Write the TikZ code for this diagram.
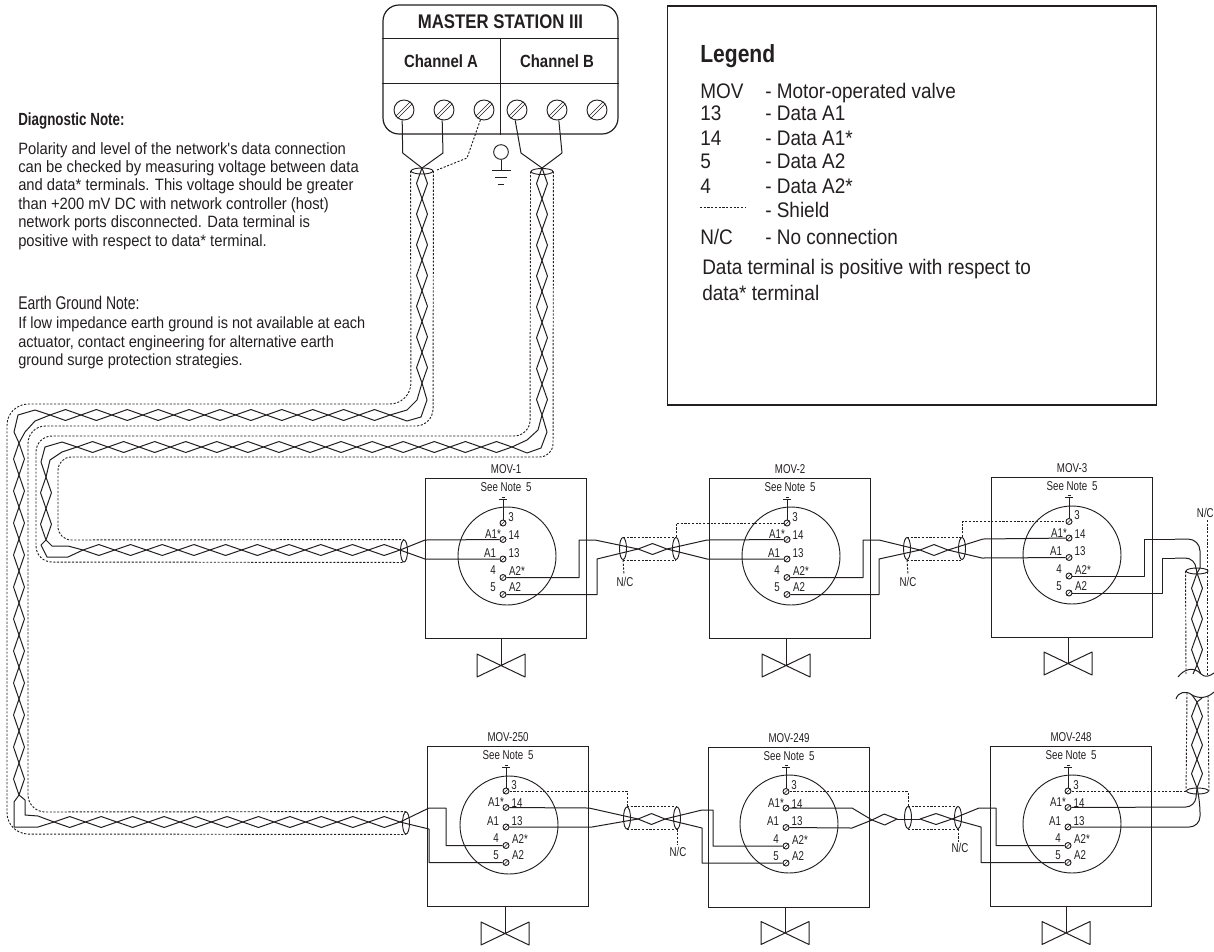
\documentclass[tikz,border=0pt]{standalone}
\usepackage{fontspec}
\setmainfont[FakeStretch=0.85]{Liberation Sans}
\newfontfamily\notefont[FakeStretch=0.9]{Liberation Sans}
\newfontfamily\termfont[FakeStretch=0.76]{Liberation Sans}
\usetikzlibrary{shapes.geometric, positioning, calc}
\definecolor{inkblack}{HTML}{231F20}
\tikzset{
  wire/.style={
    color = inkblack,
    line width = 0.75pt,
    line join = round
  },
  shield/.style={
    color = inkblack,
    line width = 0.7pt,
    dash pattern = on 1.6pt off 1.2pt
  },
  movbox/.style={
    draw = inkblack,
    rectangle,
    line width = 0.9pt,
    minimum width = 120.75pt,
    minimum height = 120pt,
    inner sep = 0,
    anchor = north west
  },
  termcircle/.style={
    draw = inkblack,
    circle,
    line width = 0.7pt,
    minimum size = 73.5pt,
    inner sep = 0
  },
  smallscrew/.style={
    draw = inkblack,
    circle,
    line width = 0.7pt,
    minimum size = 4.5pt,
    inner sep = 0
  },
  bigscrew/.style={
    draw = inkblack,
    circle,
    line width = 0.7pt,
    minimum size = 15pt,
    inner sep = 0
  },
  endring/.style={
    draw = inkblack,
    ellipse,
    line width = 0.7pt,
    minimum width = 5.25pt,
    minimum height = 16.5pt,
    inner sep = 0
  },
  flatring/.style={
    draw = inkblack,
    ellipse,
    line width = 0.7pt,
    minimum width = 16.5pt,
    minimum height = 4.5pt,
    inner sep = 0
  },
  smalltext/.style={
    text = inkblack,
    inner sep = 0,
    font = \termfont\fontsize{9.6}{11}\selectfont
  },
  boxtitle/.style={
    text = inkblack,
    inner sep = 0,
    font = \fontsize{13.2}{16}\selectfont\bfseries
  },
  legendtext/.style={
    text = inkblack,
    inner sep = 0,
    anchor = base west,
    font = \notefont\fontsize{15.8}{19}\selectfont
  },
  notetext/.style={
    text = inkblack,
    inner sep = 0,
    anchor = north west,
    align = left,
    font = \notefont\fontsize{12.3}{13.8}\selectfont
  }
}
\newcommand{\twistpair}[3]{%
  \foreach \i in {1,...,#3} {
    \coordinate (twistmid) at ($(#1)!{(\i-0.5)/#3}!(#2)$);
    \draw[wire] ($(#1)!{(\i-1)/#3}!(#2)$) -- ($(twistmid)!4.1pt!90:(#2)$)
      -- ($(#1)!{\i/#3}!(#2)$) -- ($(twistmid)!4.1pt!-90:(#2)$) -- cycle;
  }
}
\begin{document}
\begin{tikzpicture}[x=0.75pt, y=-0.75pt]
    \useasboundingbox (0,0) rectangle (1214,951);

    % master station
    \node[draw = inkblack, rectangle, rounded corners = 12pt, line width = 0.9pt,
      minimum width = 176.25pt, minimum height = 96.75pt, inner sep = 0] (master) at (500.5,69.5) {};
    \draw[wire] (master.west |- 0,38) -- (master.east |- 0,38);
    \draw[wire] (master.west |- 0,83) -- (master.east |- 0,83);
    \draw[wire] (500.5,38) -- (master.south);
    \node[boxtitle, font = \fontsize{14.8}{16}\selectfont\bfseries] (mastertitle) at (500.5,22) {MASTER STATION III};
    \node[boxtitle] (chana) at (441,61) {Channel A};
    \node[boxtitle] (chanb) at (557,61) {Channel B};
    \foreach \tag/\x in {a1/404, a2/444, a3/484, b1/517, b2/557, b3/597} {
      \node[bigscrew] (\tag) at (\x,110) {};
      \draw[wire, line width = 0.5pt] ($(\tag.south west)+(-1,-1)$) -- ($(\tag.north east)+(-1,-1)$);
      \draw[wire, line width = 0.5pt] ($(\tag.south west)+(1,1)$) -- ($(\tag.north east)+(1,1)$);
    }

    % ground symbol
    \node[draw = inkblack, circle, line width = 0.7pt, minimum size = 11pt, inner sep = 0] (gndball) at (501,152) {};
    \draw[wire] (gndball) -- (501,170);
    \draw[wire] (492,170) -- (511,170);
    \draw[wire] (495,177) -- (507,177);
    \draw[wire] (498,184) -- (504,184);

    % notes
    \node[notetext, font = \termfont\fontsize{13.2}{15}\selectfont\bfseries] (diagtitle) at (18,112) {Diagnostic Note:};
    \node[notetext] (diagbody) at (18,142) {Polarity and level of the network's data connection\\
      can be checked by measuring voltage between data\\
      and data* terminals. This voltage should be greater\\
      than +200 mV DC with network controller (host)\\
      network ports disconnected. Data terminal is\\
      positive with respect to data* terminal.};
    \node[notetext, font = \termfont\fontsize{13.8}{16}\selectfont] (earthtitle) at (18,296) {Earth Ground Note:};
    \node[notetext, font = \notefont\fontsize{12.1}{13.8}\selectfont] (earthbody) at (18,317) {If low impedance earth ground is not available at each\\
      actuator, contact engineering for alternative earth\\
      ground surge protection strategies.};

    % legend
    \node[draw = inkblack, rectangle, line width = 0.9pt, minimum width = 366.75pt,
      minimum height = 299.25pt, inner sep = 0] (legendbox) at (912,205.5) {};
    \node[legendtext, font = \fontsize{18.6}{22}\selectfont\bfseries] (legendtitle) at (700,62) {Legend};
    \foreach \key/\descr/\y [count=\n] in {MOV/Motor-operated valve/98, 13/Data A1/120, 14/Data A1*/145,
        5/Data A2/168, 4/Data A2*/193, /Shield/217, {N/C}/No connection/244} {
      \node[legendtext] (legkey\n) at (700,\y) {\key};
      \node[legendtext] (legitem\n) at (765,\y) {- \descr};
    }
    \draw[shield, line width = 0.5pt] (700,207) -- (746,207);
    \node[legendtext] (legline1) at (702,274) {Data terminal is positive with respect to};
    \node[legendtext] (legline2) at (702,300) {data* terminal};

    % valve units
    \foreach \unit/\movname/\bx/\by/\sx/\sy/\cx/\cy/\vx/\vy in {
        mova/MOV-1/425/478/503/523/507/556/501/665.5,
        movb/MOV-2/709/478/787/523/791/556/786/665.5,
        movc/MOV-3/991/477/1069/521.5/1072/555/1068/663.5,
        movd/MOV-250/427/746/506/791/509/825/505/933.5,
        move/MOV-249/708/747/786/791.5/789/824/785/933,
        movf/MOV-248/990/746/1068/791/1072/824/1066/933} {
      \node[movbox] (\unit) at (\bx,\by) {};
      \node[smalltext, above = 3pt of \unit] (\unit title) {\movname};
      \node[smalltext, below = 3pt of \unit.north] (\unit note) {See Note\, 5};
      \node[termcircle] (\unit ring) at (\cx,\cy) {};
      \foreach \tag/\off in {3/0, 14/16.5, 13/36, 4/54.5, 5/71.5} {
        \node[smallscrew] (\unit-\tag) at (\sx,\sy+\off) {};
        \draw[wire, line width = 0.5pt] (\unit-\tag.south west) -- (\unit-\tag.north east);
      }
      \foreach \tag/\dx/\dy/\txt in {3/8/-6/3, 14/-10/-5/A1*, 14/11/-4/14, 13/-13/-6/A1, 13/11/-6/13,
          4/-10/-7/4, 4/14/-6/A2*, 5/-10/-7/5, 5/12/-7/A2} {
        \node[smalltext] (\unit-\tag-\txt) at ($(\unit-\tag)+(\dx,\dy)$) {\txt};
      }
      % earth stub above terminal 3
      \coordinate (\unit stub) at (\sx,\sy-24);
      \draw[wire] (\unit-3) -- (\unit stub);
      \draw[wire] ($(\unit stub)+(-4,0)$) -- ($(\unit stub)+(4,0)$);
      \draw[wire] ($(\unit stub)+(-1.5,-2)$) -- ($(\unit stub)+(1.5,-2)$);
      % valve
      \coordinate (\unit valve) at (\vx,\vy);
      \draw[wire] (\unit.south -| \unit valve) -- (\unit valve);
      \draw[wire] (\vx-24,\vy-11.5) -- (\vx+24,\vy+11.5) -- (\vx+24,\vy-11.5) -- (\vx-24,\vy+11.5) -- cycle;
    }

    % cable to channel A
    \node[flatring] (ringa) at (422,171) {};
    \draw[wire] (a1.-100) -- (402.7,153) -- (422,168);
    \draw[wire] (a2.-100) -- (443,153) -- (422,168);
    \draw[shield] (a3.-110) -- (467,158) -- (437,170);
    \twistpair{422,168}{422,383}{7}
    \draw[wire] (422,383) -- (417,400) -- (407,410) -- (390,415);
    \draw[wire] (422,383) -- (427,400) -- (421,417) -- (407,421) -- (390,415);
    \twistpair{390,415}{50,415}{11}
    \draw[wire] (50,415) -- (35,410) -- (18,415) -- (14,432) -- (19,443);
    \draw[wire] (50,415) -- (35,421) -- (25,432) -- (19,443);
    \twistpair{19,443}{19,795}{11}
    \draw[wire] (19,795) -- (14,802) -- (14,827) -- (38,827) -- (54,822);
    \draw[wire] (19,795) -- (25,800) -- (25,815) -- (38,816) -- (54,822);
    \twistpair{54,822}{400,822}{11}
    \node[endring] (ringd) at (406,823) {};
    \draw[shield, rounded corners = 16pt] (ringa.west) -- (411,404) -- (7,404) -- (7,834) -- (ringd.south);
    \draw[shield, rounded corners = 13pt] (ringa.east) -- (433,426) -- (28,426) -- (28,812) -- (ringd.north);

    % cable to channel B
    \node[flatring] (ringb) at (542,171.5) {};
    \draw[wire] (b1.-100) -- (521,153) -- (542,168);
    \draw[wire] (b2.-80) -- (562,153) -- (542,168);
    \twistpair{542,168}{542,415}{8}
    \draw[wire] (542,415) -- (547,432) -- (541,448) -- (527,453) -- (512,447);
    \draw[wire] (542,415) -- (538,430) -- (527,440) -- (512,447);
    \twistpair{512,447}{77,447}{14}
    \draw[wire] (77,447) -- (62,442) -- (45,447) -- (41,462) -- (46,477);
    \draw[wire] (77,447) -- (62,452) -- (50,460) -- (46,477);
    \twistpair{46,477}{46,540}{2}
    \draw[wire] (46,540) -- (41,545) -- (47,557) -- (68,557) -- (83,550);
    \draw[wire] (46,540) -- (52,546) -- (68,546) -- (83,550);
    \twistpair{83,550}{400,550}{10}
    \node[endring] (ringc) at (404,551) {};
    \draw[shield, rounded corners = 12pt] (ringb.west) -- (530,436) -- (36,436) -- (36,562) -- (ringc.south);
    \draw[shield, rounded corners = 10pt] (ringb.east) -- (553,457) -- (58,457) -- (58,540) -- (ringc.north);

    % into MOV-1
    \draw[wire] (400,550) -- (425,540) -- (mova-14);
    \draw[wire] (400,550) -- (425,559) -- (mova-13);

    % MOV-1 to MOV-2
    \node[endring] (ring1) at (623,548.5) {};
    \node[endring] (ring2) at (676,548.5) {};
    \draw[wire] (mova-4) -| (579,540) -- (595,540) -- (638,549);
    \draw[wire] (mova-5) -| (597,559) -- (638,549);
    \twistpair{638,549}{667,549}{1}
    \draw[wire] (667,549) -- (707,540) -- (movb-14);
    \draw[wire] (667,549) -- (707,559) -- (movb-13);
    \draw[shield] (ring1.north) -- (ring2.north);
    \draw[shield] (ring1.south) -- (ring2.south);
    \draw[shield] (ring2.north) |- (movb-3);
    \coordinate (ncone) at (624,575);
    \draw[shield] (ring1.south) -- (ncone);
    \node[smalltext] (nclabelone) at (625,582) {N/C};

    % MOV-2 to MOV-3
    \node[endring] (ring3) at (907,548.5) {};
    \node[endring] (ring4) at (962,548.5) {};
    \draw[wire] (movb-4) -| (863,540) -- (879,540) -- (920,550);
    \draw[wire] (movb-5) -| (879,559) -- (920,550);
    \twistpair{920,550}{948,550}{1}
    \draw[wire] (948,550) -- (983,539) -- (movc-14);
    \draw[wire] (948,550) -- (982,558) -- (movc-13);
    \draw[shield] (ring3.north) -- (ring4.north);
    \draw[shield] (ring3.south) -- (ring4.south);
    \draw[shield] (ring4.north) |- (movc-3);
    \coordinate (nctwo) at (908,575);
    \draw[shield] (ring3.south) -- (nctwo);
    \node[smalltext] (nclabeltwo) at (908,582) {N/C};

    % right hand cable with break
    \node[flatring] (ringe) at (1197,571) {};
    \draw[wire] (movc-4) -| (1144,539) -- (1175,539);
    \draw[wire, rounded corners = 9pt] (1175,539) -- (1200,539) -- (1200,568);
    \draw[wire] (1200,568) -- (1197,573);
    \draw[wire] (movc-5) -| (1162,558) -- (1175,558);
    \draw[wire, rounded corners = 8pt] (1175,558) -- (1196,558) -- (1196,568);
    \draw[wire] (1196,568) -- (1197,573);
    \twistpair{1197,573}{1197,665}{3}
    \draw[wire] (1197,665) -- (1193,674);
    \draw[wire] (1197,665) -- (1201,674);
    \draw[shield] (ringe.west) -- (1186,674);
    \coordinate (ncthree) at (1207,520);
    \draw[shield] (ncthree) -- (1207,676);
    \node[smalltext, anchor = east] (nclabelthree) at (1214,513) {N/C};
    \draw[wire] (1178,677) .. controls (1184,669) and (1194,666) .. (1201,674)
      .. controls (1205,678) and (1210,676) .. (1214,673);
    \draw[wire] (1176,699) .. controls (1178,692) and (1186,690) .. (1192,695)
      .. controls (1199,699) and (1208,698) .. (1214,692);
    \node[flatring] (ringf) at (1197.5,791) {};
    \draw[shield] (1187,693) -- (ringf.west);
    \draw[shield] (1208,696) -- (ringf.east);
    \draw[wire] (1192,695) -- (1197,702);
    \draw[wire] (1202,698) -- (1197,702);
    \twistpair{1197,702}{1197,788}{3}
    \draw[shield] (ringf.west) -- (movf-3);
    \draw[wire, rounded corners = 7pt] (1197,788) -- (1195,807) -- (movf-14);
    \draw[wire, rounded corners = 8pt] (1197,788) -- (1200,802) -- (1200,827) -- (movf-13);

    % MOV-248 to MOV-249
    \node[endring] (ring7) at (908,817.5) {};
    \node[endring] (ring8) at (958,817.5) {};
    \draw[wire] (movf-4) -| (996,808) -- (979,808) -- (952,819);
    \draw[wire] (movf-5) -| (981,827) -- (952,819);
    \twistpair{920,819}{952,819}{1}
    \draw[wire] (897,819) -- (920,819);
    \twistpair{872,820}{897,819}{1}
    \draw[wire] (move-14) -- (852,808) -- (872,820);
    \draw[wire] (move-13) -- (852,828) -- (872,820);
    \draw[shield] (ring7.north) -- (ring8.north);
    \draw[shield] (ring7.south) -- (ring8.south);
    \draw[shield] (ring7.north) |- (move-3);
    \coordinate (ncfour) at (958,842);
    \draw[shield] (ring8.south) -- (ncfour);
    \node[smalltext] (nclabelfour) at (960,848) {N/C};

    % MOV-249 to MOV-250
    \node[endring] (ring5) at (627,818) {};
    \node[endring] (ring6) at (677,818) {};
    \draw[wire] (movd-14) -- (589,808) -- (638,819);
    \draw[wire] (movd-13) -- (592,827) -- (638,819);
    \twistpair{638,819}{665,819}{1}
    \draw[wire] (move-4) -| (713,810) -- (702,810) -- (665,819);
    \draw[wire] (move-5) -| (702,828) -- (665,819);
    \draw[shield] (ring5.north) -- (ring6.north);
    \draw[shield] (ring5.south) -- (ring6.south);
    \draw[shield] (ring5.north) |- (movd-3);
    \coordinate (ncfive) at (677,845);
    \draw[shield] (ring6.south) -- (ncfive);
    \node[smalltext] (nclabelfive) at (678,852) {N/C};

    % into MOV-250
    \draw[wire] (400,822) -- (429,808) -- (446,808) |- (movd-4);
    \draw[wire] (400,822) -- (429,829) |- (movd-5);
\end{tikzpicture}
\end{document}
